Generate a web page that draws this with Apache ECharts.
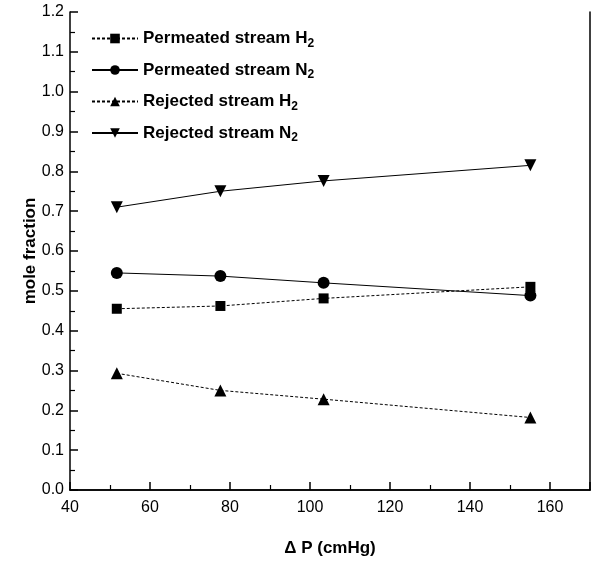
<!DOCTYPE html>
<html>
<head>
<meta charset="utf-8">
<script src="https://cdn.jsdelivr.net/npm/echarts@6/dist/echarts.min.js"></script>
<style>
  html, body { margin: 0; padding: 0; background: #fff; }
  #main { width: 597px; height: 565px; }
</style>
</head>
<body>
<div id="main"></div>
<script>
  // pressure difference (cmHg)
  var pressure = [51.7, 77.6, 103.4, 155.1];
  // mole fractions
  var permH2 = [0.455, 0.462, 0.481, 0.510];
  var permN2 = [0.545, 0.537, 0.520, 0.488];
  var rejH2 = [0.293, 0.250, 0.228, 0.182];
  var rejN2 = [0.710, 0.750, 0.776, 0.815];

  var names = ['Permeated stream H', 'Permeated stream N', 'Rejected stream H', 'Rejected stream N'];
  var subs = ['2', '2', '2', '2'];

  function pairs(ys) {
    return pressure.map(function (x, i) { return [x, ys[i]]; });
  }

  var myChart = echarts.init(document.getElementById('main'));

  var axisLine = { show: true, lineStyle: { color: '#000', width: 1.5 } };
  var font = 'Liberation Sans, Arial, sans-serif';

  function mkSeries(idx, ys, symbol, rotate, dashed) {
    return {
      name: names[idx],
      type: 'line',
      data: pairs(ys),
      symbol: symbol,
      symbolSize: symbol === 'rect' ? 10 : 12,
      symbolRotate: rotate,
      itemStyle: { color: '#000' },
      lineStyle: { color: '#000', width: 1, type: dashed ? [3, 2] : 'solid' },
      animation: false
    };
  }

  var option = {
    backgroundColor: '#fff',
    grid: { left: 70, right: 7, top: 12, bottom: 75 },
    legend: {
      orient: 'vertical',
      left: 86,
      top: 25,
      itemGap: 12,
      itemWidth: 46,
      itemHeight: 12,
      data: names,
      formatter: function (n) {
        var i = names.indexOf(n);
        return '{a|' + n + '}{s|' + subs[i] + '}';
      },
      textStyle: {
        rich: {
          a: { fontFamily: font, fontWeight: 'bold', fontSize: 17, color: '#000' },
          s: { fontFamily: font, fontWeight: 'bold', fontSize: 12, color: '#000', verticalAlign: 'bottom', padding: [10, 0, 0, 0] }
        }
      }
    },
    xAxis: [{
      type: 'value',
      min: 40, max: 170, interval: 20,
      name: 'Δ P (cmHg)',
      nameLocation: 'middle',
      nameGap: 50,
      nameTextStyle: { fontFamily: font, fontWeight: 'bold', fontSize: 17, color: '#000' },
      axisLine: axisLine,
      axisTick: { show: true, inside: true, length: 8, lineStyle: { color: '#000', width: 1.5 } },
      minorTick: { show: true, splitNumber: 2, length: 5, lineStyle: { color: '#000', width: 1.2 } },
      axisLabel: { fontFamily: font, fontSize: 16, color: '#000', margin: 10, showMaxLabel: false },
      splitLine: { show: false }
    }, {
      type: 'value',
      position: 'top',
      min: 40, max: 170, interval: 20,
      axisLine: axisLine,
      axisTick: { show: false },
      axisLabel: { show: false },
      splitLine: { show: false }
    }],
    yAxis: [{
      type: 'value',
      min: 0, max: 1.2, interval: 0.1,
      name: 'mole fraction',
      nameLocation: 'middle',
      nameGap: 31,
      nameMoveOverlap: false,
      nameTextStyle: { fontFamily: font, fontWeight: 'bold', fontSize: 17, color: '#000' },
      axisLine: axisLine,
      axisTick: { show: true, inside: true, length: 8, lineStyle: { color: '#000', width: 1.5 } },
      minorTick: { show: true, splitNumber: 2, length: 5, lineStyle: { color: '#000', width: 1.2 } },
      axisLabel: {
        fontFamily: font, fontSize: 16, color: '#000', margin: 6,
        formatter: function (v) { return v.toFixed(1); }
      },
      splitLine: { show: false }
    }, {
      type: 'value',
      position: 'right',
      min: 0, max: 1.2, interval: 0.1,
      axisLine: axisLine,
      axisTick: { show: false },
      axisLabel: { show: false },
      splitLine: { show: false }
    }],
    series: [
      mkSeries(0, permH2, 'rect', 0, true),
      mkSeries(1, permN2, 'circle', 0, false),
      mkSeries(2, rejH2, 'triangle', 0, true),
      mkSeries(3, rejN2, 'triangle', 180, false)
    ]
  };

  myChart.setOption(option);
</script>
</body>
</html>
